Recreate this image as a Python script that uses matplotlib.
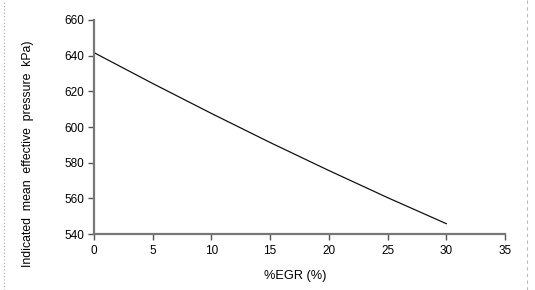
import matplotlib
matplotlib.use("Agg")
import matplotlib.pyplot as plt
from matplotlib.lines import Line2D

egr = [0, 5, 10, 15, 20, 25, 30]
imep = [641.7, 624.4, 607.6, 591.3, 575.6, 560.4, 545.8]

x_ticks = [0, 5, 10, 15, 20, 25, 30, 35]
y_ticks = [540, 560, 580, 600, 620, 640, 660]

plt.rcParams["font.family"] = ["Liberation Sans", "DejaVu Sans"]
plt.rcParams["font.size"] = 8.5

fig = plt.figure(figsize=(5.35, 2.9), dpi=100)
ax = fig.add_axes([94 / 535, 1 - 234 / 290, 411 / 535, 214 / 290])

ax.plot(egr, imep, color="#111111", linewidth=0.9)

ax.set_xlim(0, 35)
ax.set_ylim(540, 660)
ax.set_xticks(x_ticks)
ax.set_yticks(y_ticks)

for side in ("top", "right"):
    ax.spines[side].set_visible(False)
for side in ("left", "bottom"):
    ax.spines[side].set_color("#777777")
    ax.spines[side].set_linewidth(1.6)

ax.tick_params(direction="out", length=4, width=1, color="#555555", pad=3)
ax.tick_params(axis="x", pad=4)

ax.set_xlabel("%EGR (%)", fontsize=9.2)
ax.xaxis.set_label_coords(0.49, -0.17)
ax.set_ylabel("Indicated  mean  effective  pressure  kPa)", fontsize=8.8)
ax.yaxis.set_label_coords(-0.146, 0.374)

# page borders of the original screenshot
fig.add_artist(Line2D([4 / 535, 4 / 535], [0, 1], transform=fig.transFigure,
                      color="#aaaaaa", linewidth=0.8, linestyle=(0, (1, 2))))
fig.add_artist(Line2D([527 / 535, 527 / 535], [0, 1], transform=fig.transFigure,
                      color="#bbbbbb", linewidth=0.8, linestyle=(0, (3, 3))))

fig.savefig("out.png", dpi=100)
